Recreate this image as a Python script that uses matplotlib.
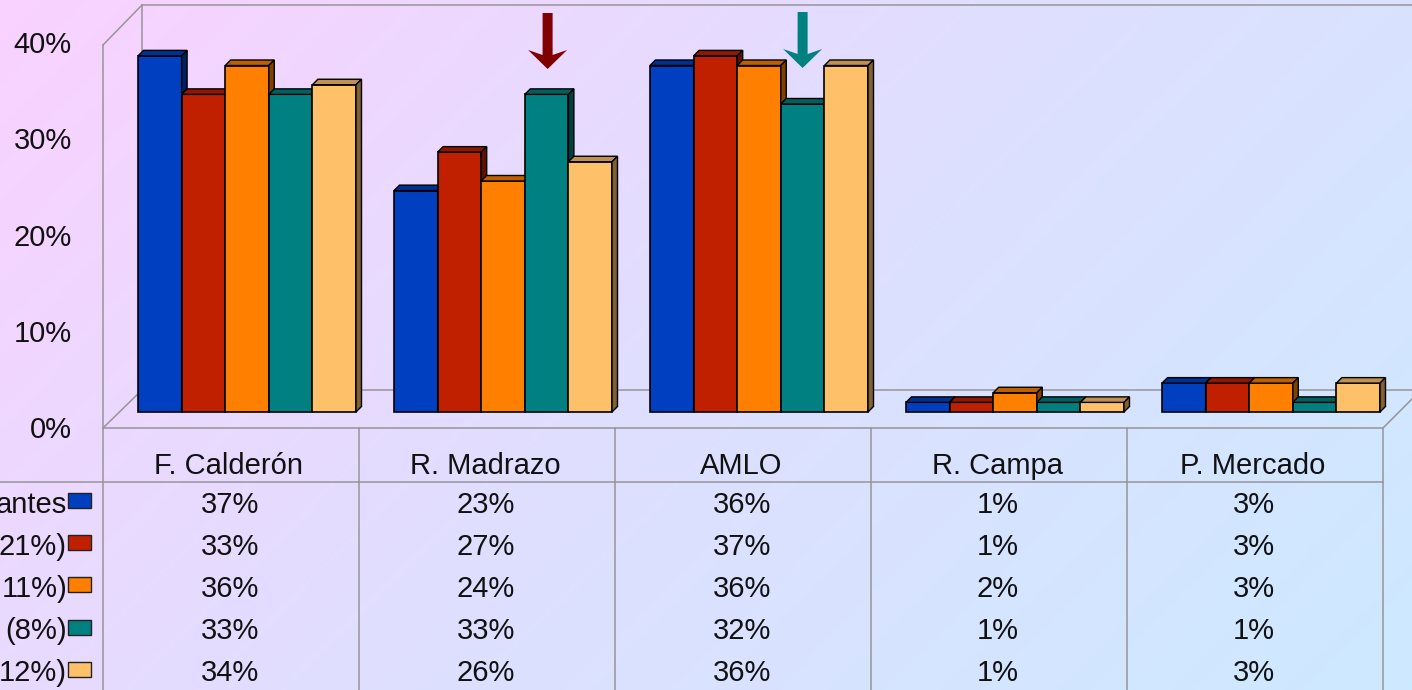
import matplotlib
matplotlib.use("Agg")
import matplotlib.pyplot as plt
from matplotlib.colors import LinearSegmentedColormap, to_rgb
from matplotlib.patches import Polygon, Rectangle
import numpy as np

plt.rcParams['font.family'] = ['Liberation Sans', 'DejaVu Sans']

CATEGORIES = ['F. Calderón', 'R. Madrazo', 'AMLO', 'R. Campa', 'P. Mercado']
SERIES_LABELS = ['antes', '21%)', '11%)', '(8%)', '12%)']
SERIES_COLORS = ['#0040c0', '#c02000', '#ff8000', '#008080', '#ffc06a']
S1 = [37, 23, 36, 1, 3]
S2 = [33, 27, 37, 1, 3]
S3 = [36, 24, 36, 2, 3]
S4 = [33, 33, 32, 1, 1]
S5 = [34, 26, 36, 1, 3]
SERIES = [S1, S2, S3, S4, S5]
Y_TICKS = [0, 10, 20, 30, 40]

W, H = 1412, 690
CAT_PX = 256.0      # width of a category
PCT_PX = 9.625      # height of 1%
X0, Y0 = 103, 428   # front corner of the floor
GRID = '#989498'
INK = '#111111'


def px_x(p):
    return (p - X0) / CAT_PX


def px_y(p):
    return (Y0 - p) / PCT_PX


def darker(color, k):
    return tuple(c * k for c in to_rgb(color))


def draw_bar(ax, left, width, value, color, base, dx, dy):
    top = base + value
    right = left + width
    ax.add_patch(Rectangle((left, base), width, value, fc=color, ec='black', lw=1.2, zorder=3))
    ax.add_patch(Polygon([(left, top), (left + dx, top + dy), (right + dx, top + dy), (right, top)],
                         fc=darker(color, 0.75), ec='black', lw=1, zorder=3))
    ax.add_patch(Polygon([(right, base), (right + dx, base + dy), (right + dx, top + dy), (right, top)],
                         fc=darker(color, 0.5), ec='black', lw=1, zorder=3))


def draw_arrow(ax, x, tip, color):
    # shaft and notched head, sizes in pixels
    sw, hw = 5 / CAT_PX, 19.5 / CAT_PX
    pts = [(x, tip), (x - hw, tip + 19 / PCT_PX), (x - sw, tip + 14 / PCT_PX),
           (x - sw, tip + 56 / PCT_PX), (x + sw, tip + 56 / PCT_PX),
           (x + sw, tip + 14 / PCT_PX), (x + hw, tip + 19 / PCT_PX)]
    ax.add_patch(Polygon(pts, fc=color, ec='none', zorder=4))


fig = plt.figure(figsize=(W / 100, H / 100), dpi=100)
ax = fig.add_axes([0, 0, 1, 1])
ax.set_xlim(px_x(0), px_x(W))
ax.set_ylim(px_y(H), px_y(0))
ax.axis('off')

# diagonal background
xx, yy = np.meshgrid(np.linspace(0, W, 300), np.linspace(0, H, 150))
cmap = LinearSegmentedColormap.from_list('bg', ['#fad2ff', '#dfdfff', '#cde9ff'])
ax.imshow((xx + yy) / (W + H), cmap=cmap, vmin=0, vmax=1, aspect='auto', zorder=0,
          extent=(px_x(0), px_x(W), px_y(H), px_y(0)))

# chart box
wall = [
    ([X0, X0], [45, H]),
    ([X0, 142], [45, 5]),
    ([142, W], [5, 5]),
    ([142, 142], [5, 390]),
    ([142, W], [390, 390]),
    ([X0, 142], [428, 390]),
    ([X0, 1383], [428, 428]),
    ([1383, W], [428, 399]),
    ([0, 1383], [482, 482]),
]
for xs, ys in wall:
    ax.plot([px_x(v) for v in xs], [px_y(v) for v in ys], color=GRID, lw=1.1, zorder=1)
for i in range(1, len(CATEGORIES) + 1):
    ax.plot([i, i], [0, px_y(H)], color=GRID, lw=1.1, zorder=1)

for t in Y_TICKS:
    ax.text(px_x(72), t - 2 / PCT_PX, f'{t}%', ha='right', va='center', fontsize=21, color=INK)

# bars
bar_w = 43.6 / CAT_PX
gap = 35 / CAT_PX
base = px_y(412)
dx, dy = 5.5 / CAT_PX, 5.5 / PCT_PX
for c in range(len(CATEGORIES)):
    for s, values in enumerate(SERIES):
        draw_bar(ax, c + gap + s * bar_w, bar_w, values[c], SERIES_COLORS[s], base, dx, dy)

draw_arrow(ax, 1 + gap + 3.5 * bar_w + 1 / CAT_PX, px_y(69), '#800000')
draw_arrow(ax, 2 + gap + 3.5 * bar_w, px_y(68), '#008080')

# data table
for c, name in enumerate(CATEGORIES):
    ax.text(c + 0.5 - 2 / CAT_PX, px_y(466), name, ha='center', va='center', fontsize=21, color=INK)
for s, values in enumerate(SERIES):
    row_y = px_y(505 + 42 * s)
    ax.text(px_x(67), row_y, SERIES_LABELS[s], ha='right', va='center', fontsize=21, color=INK)
    ax.add_patch(Rectangle((px_x(68), px_y(508 + 42.2 * s)), 23 / CAT_PX, 15 / PCT_PX,
                           fc=SERIES_COLORS[s], ec='#222222', lw=1, zorder=3))
    for c, v in enumerate(values):
        ax.text(c + 0.5 - 1 / CAT_PX, row_y, f'{v}%', ha='center', va='center', fontsize=21, color=INK)

fig.savefig('out.png', dpi=100)
